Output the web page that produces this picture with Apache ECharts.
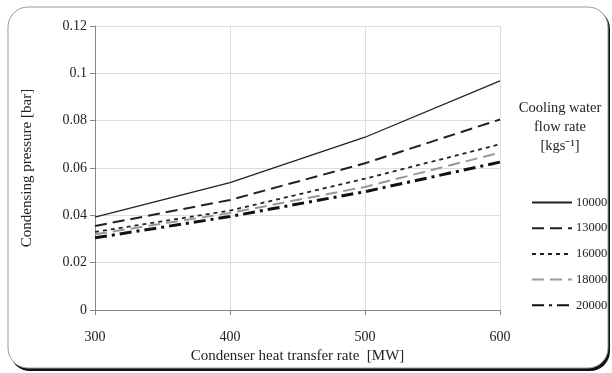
<!DOCTYPE html>
<html><head><meta charset="utf-8">
<script src="https://cdn.jsdelivr.net/npm/echarts@6/dist/echarts.min.js"></script>
<style>html,body{margin:0;padding:0;background:#fff}#c{width:612px;height:373px}</style>
</head><body><div id="c"></div>
<script>
const xCats = [300, 400, 500, 600];
const s10000 = [0.0392, 0.0538, 0.0730, 0.0968];
const s13000 = [0.0355, 0.0465, 0.0620, 0.0805];
const s16000 = [0.0330, 0.0420, 0.0555, 0.0700];
const s18000 = [0.0320, 0.0410, 0.0520, 0.0665];
const s20000 = [0.0305, 0.0395, 0.0500, 0.0625];
const names = ['10000', '13000', '16000', '18000', '20000'];

const font = 'Liberation Serif';
const styles = [
  {color:'#222', width:1.3, type:'solid'},
  {color:'#222', width:2, type:[12,6]},
  {color:'#222', width:1.8, type:[4,4]},
  {color:'#999', width:2, type:[12,6]},
  {color:'#111', width:3, type:[12,5,3,5]}
];
const data = [s10000, s13000, s16000, s18000, s20000];

const chart = echarts.init(document.getElementById('c'));
chart.setOption({
  animation:false,
  textStyle:{fontFamily:font},
  graphic:[
    {type:'rect', shape:{x:10, y:9, width:600, height:362, r:20}, style:{fill:'#111'}, z:-10},
    {type:'rect', shape:{x:8, y:7, width:600, height:361, r:20}, style:{fill:'#fff', stroke:'#999', lineWidth:1}, z:-9},
    {type:'text', x:560, y:99, style:{text:'Cooling water\nflow rate\n[kgs\u207B\u00B9]', fill:'#222', font:'14.5px "Liberation Serif"', align:'center', verticalAlign:'top', lineHeight:19}}
  ],
  grid:{left:95, right:112, top:26, bottom:63},
  legend:{
    orient:'vertical', left:526, top:191, itemWidth:40, itemHeight:10, itemGap:12.7,
    itemStyle:{opacity:0},
    textStyle:{fontFamily:font, fontSize:12.5, color:'#222', padding:[0,0,0,-1]},
    data:names
  },
  xAxis:{
    type:'value', min:300, max:600, interval:100,
    name:'Condenser heat transfer rate  [MW]', nameLocation:'middle', nameGap:38,
    nameTextStyle:{fontFamily:font, fontSize:15, color:'#222'},
    axisLine:{show:true, lineStyle:{color:'#888'}},
    axisTick:{show:true, length:5, lineStyle:{color:'#888'}},
    axisLabel:{margin:20, fontFamily:font, fontSize:14, color:'#222'},
    splitLine:{show:true, lineStyle:{color:'#ddd'}}
  },
  yAxis:{
    type:'value', min:0, max:0.12, interval:0.02,
    name:'Condensing pressure [bar]', nameLocation:'middle', nameGap:60,
    nameTextStyle:{fontFamily:font, fontSize:15, color:'#222'},
    axisLine:{show:true, lineStyle:{color:'#888'}},
    axisTick:{show:true, length:5, lineStyle:{color:'#888'}},
    axisLabel:{margin:8, fontFamily:font, fontSize:14, color:'#222', formatter:v=>String(+v.toFixed(2))},
    splitLine:{show:true, lineStyle:{color:'#ddd'}}
  },
  series:names.map((n,i)=>({
    name:n, type:'line', symbol:'none', silent:true,
    data:xCats.map((x,j)=>[x, data[i][j]]),
    lineStyle:styles[i], itemStyle:{color:styles[i].color}
  }))
});
</script></body></html>
